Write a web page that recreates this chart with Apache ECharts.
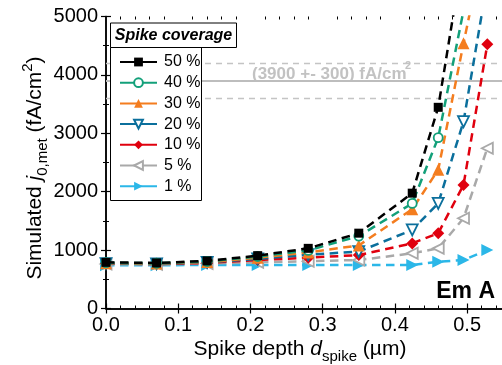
<!DOCTYPE html>
<html><head><meta charset="utf-8">
<script src="https://cdn.jsdelivr.net/npm/echarts@6/dist/echarts.min.js"></script>
<style>html,body{margin:0;padding:0;background:#fff}#c{width:502px;height:365px}</style>
</head><body><div id="c"></div>
<script>
// ---- data ----
const depth = [0, 0.07, 0.14, 0.21, 0.28, 0.35, 0.424, 0.46, 0.495, 0.528];
const coverageNames = ['50 %', '40 %', '30 %', '20 %', '10 %', '5 %', '1 %'];
const j50 = [790, 780, 815, 905, 1030, 1290, 1975, 3445, 6100];
const j40 = [785, 775, 805, 890, 995, 1240, 1800, 2925, 5100];
const j30 = [775, 770, 795, 870, 960, 1080, 1700, 2375, 4540, 6500];
const j20 = [770, 765, 790, 850, 920, 975, 1345, 1800, 3200, 5600];
const j10 = [770, 760, 780, 830, 870, 915, 1115, 1290, 2115, 4525];
const j5  = [760, 755, 770, 790, 810, 830, 945, 1030, 1545, 2745];
const j1  = [740, 740, 745, 745, 745, 745, 745, 800, 830, 1000];
const refLevel = 3900, refErr = 300;
const xTicks = [0, 0.1, 0.2, 0.3, 0.4, 0.5];
const xMinorTicks = [0.02, 0.04, 0.06, 0.08, 0.12, 0.14, 0.16, 0.18, 0.22, 0.24, 0.26, 0.28,
  0.32, 0.34, 0.36, 0.38, 0.42, 0.44, 0.46, 0.48, 0.52, 0.54];
const yTicks = [0, 1000, 2000, 3000, 4000, 5000];

const FONT = 'Liberation Sans, Arial, sans-serif';
const XMAX = 0.5483;
const styles = [
  {c:'#000000', sym:'rect', size:9, rot:0, hollow:false},
  {c:'#13A07A', sym:'circle', size:9, rot:0, hollow:true},
  {c:'#F47D1F', sym:'triangle', size:12, rot:0, hollow:false},
  {c:'#0B6F9C', sym:'triangle', size:11, rot:180, hollow:true},
  {c:'#E0000E', sym:'diamond', size:12, rot:0, hollow:false},
  {c:'#A9A9A9', sym:'triangle', size:11, rot:90, hollow:true},
  {c:'#2BB7E8', sym:'triangle', size:12, rot:-90, hollow:false}
];
const values = [j50, j40, j30, j20, j10, j5, j1];

const series = values.map((v, k) => {
  const s = styles[k];
  return {
    name: coverageNames[k], type: 'line', xAxisIndex: 0, yAxisIndex: 0,
    data: v.map((y, i) => [depth[i], y]),
    symbol: s.sym, symbolSize: s.size, symbolRotate: s.rot,
    lineStyle: {color: s.c, width: 2.5, type: [8.5, 5.5]},
    itemStyle: s.hollow ? {color: '#ffffff', borderColor: s.c, borderWidth: 1.8} : {color: s.c, borderWidth: 0},
    z: 10 - k, clip: true, animation: false
  };
});
series.push({
  name: 'ref', type: 'line', data: [], silent: true, z: 1, xAxisIndex: 0, yAxisIndex: 0,
  markLine: {
    silent: true, symbol: 'none', animation: false, label: {show: false},
    data: [
      {yAxis: refLevel, lineStyle: {color: '#BDBDBD', width: 2, type: 'solid'}},
      {yAxis: refLevel - refErr, lineStyle: {color: '#C4C4C4', width: 1.3, type: [6, 5]}},
      {yAxis: refLevel + refErr, lineStyle: {color: '#C4C4C4', width: 1.3, type: [6, 5]}}
    ]
  }
});

const axisLineS = {show: true, lineStyle: {color: '#000', width: 1.5}};
function xAx(pos, major) {
  return {
    type: 'value', min: 0, max: XMAX, interval: 0.1, position: pos,
    axisLine: major ? axisLineS : {show: false},
    axisTick: {show: true, inside: true, length: major ? 5 : 3, customValues: major ? xTicks : xMinorTicks,
      lineStyle: {width: major ? 1.2 : 1, color: '#000'}},
    splitLine: {show: false},
    axisLabel: (major && pos === 'bottom') ? {show: true, customValues: xTicks, fontSize: 20, fontFamily: FONT, color: '#000', margin: 7,
      formatter: v => v.toFixed(1)} : {show: false}
  };
}
function yAx(pos) {
  return {
    type: 'value', min: 0, max: 5000, interval: 1000, position: pos,
    axisLine: axisLineS, axisTick: {inside: true, length: 5, lineStyle: {width: 1.2, color: '#000'}},
    minorTick: {show: true, splitNumber: 2, length: 3, lineStyle: {width: 1, color: '#000'}},
    splitLine: {show: false},
    axisLabel: pos === 'left' ? {fontSize: 20, fontFamily: FONT, color: '#000', margin: 8,
      formatter: v => yTicks.includes(v) ? String(v) : ''} : {show: false}
  };
}
const chart = echarts.init(document.getElementById('c'), null, {renderer: 'canvas'});
chart.setOption({
  animation: false,
  grid: {left: 106, right: -1, top: 16.5, bottom: 56.5},
  xAxis: [xAx('bottom', true), xAx('top', true), xAx('bottom', false), xAx('top', false)],
  yAxis: [yAx('left'), yAx('right')],
  legend: {
    orient: 'vertical', left: 114, top: 49, itemWidth: 37, itemHeight: 11, itemGap: 4.7,
    data: coverageNames, selectedMode: false, z: 20,
    lineStyle: {type: 'solid'},
    textStyle: {fontSize: 16, lineHeight: 16, fontFamily: FONT, color: '#000', padding: [0, 0, 0, 2]}
  },
  graphic: [
    {type: 'rect', z: 15, shape: {x: 110.5, y: 47.5, width: 91, height: 153}, style: {fill: '#fff', stroke: '#000', lineWidth: 1}},
    {type: 'rect', z: 15, shape: {x: 110.5, y: 23, width: 126, height: 24.5}, style: {fill: '#fff', stroke: '#000', lineWidth: 1}},
    {type: 'text', z: 16, x: 173.5, y: 35.5, style: {text: 'Spike coverage', font: 'italic bold 16px ' + FONT, fill: '#000', align: 'center', verticalAlign: 'middle', textAlign: 'center', textVerticalAlign: 'middle'}},
    {type: 'text', z: 5, x: 252, y: 74.5, style: {text: '(3900 +- 300) fA/cm', font: 'bold 17px ' + FONT, fill: '#C2C2C2', align: 'left', verticalAlign: 'middle', textAlign: 'left', textVerticalAlign: 'middle'}},
    {type: 'text', z: 5, x: 405, y: 66, style: {text: '2', font: 'bold 11px ' + FONT, fill: '#C2C2C2', align: 'left', verticalAlign: 'middle', textAlign: 'left', textVerticalAlign: 'middle'}},
    {type: 'text', z: 16, x: 495, y: 291.5, style: {text: 'Em A', font: 'bold 23px ' + FONT, fill: '#000', align: 'right', verticalAlign: 'middle', textAlign: 'right', textVerticalAlign: 'middle'}},
    {type: 'text', z: 16, x: 300, y: 349, style: {
      text: '{n|Spike depth }{i|d}{s|spike}{n| (µm)}',
      align: 'center', verticalAlign: 'middle', textAlign: 'center', textVerticalAlign: 'middle', fill: '#000',
      rich: {
        n: {fontSize: 21, fontFamily: FONT, lineHeight: 30, verticalAlign: 'middle', fill: '#000', color: '#000'},
        i: {fontSize: 21, fontFamily: FONT, fontStyle: 'italic', lineHeight: 30, verticalAlign: 'middle', fill: '#000', color: '#000'},
        s: {fontSize: 15, fontFamily: FONT, lineHeight: 15, verticalAlign: 'bottom', fill: '#000', color: '#000'}
      }}},
    {type: 'text', z: 16, x: 35, y: 168, rotation: Math.PI / 2, style: {
      text: '{n|Simulated }{i|j}{s|0,met}{n| (fA/cm}{p|2}{n|)}',
      align: 'center', verticalAlign: 'middle', textAlign: 'center', textVerticalAlign: 'middle', fill: '#000',
      rich: {
        n: {fontSize: 21, fontFamily: FONT, lineHeight: 30, verticalAlign: 'middle', fill: '#000', color: '#000'},
        i: {fontSize: 21, fontFamily: FONT, fontStyle: 'italic', lineHeight: 30, verticalAlign: 'middle', fill: '#000', color: '#000'},
        s: {fontSize: 15, fontFamily: FONT, lineHeight: 15, verticalAlign: 'bottom', fill: '#000', color: '#000'},
        p: {fontSize: 15, fontFamily: FONT, lineHeight: 15, verticalAlign: 'top', fill: '#000', color: '#000'}
      }}}
  ],
  series: series
});
</script></body></html>
